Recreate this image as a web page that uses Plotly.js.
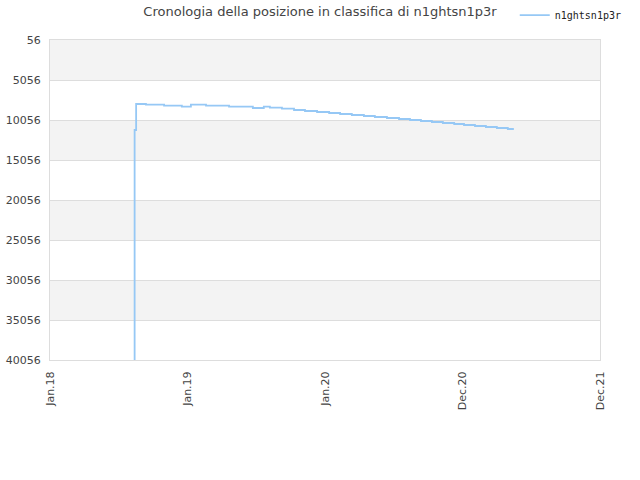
<!DOCTYPE html>
<html>
<head>
<meta charset="utf-8">
<script src="https://cdn.plot.ly/plotly-3.0.1.min.js"></script>
<style>
    html, body { margin: 0; padding: 0; background: #fff; }
    #chart { width: 640px; height: 480px; }
</style>
</head>
<body>
<div id="chart"></div>
<script>
// rank history (step line, monthly-ish updates)
const dates = [
    '2018-08-11', '2018-08-13', '2018-08-17', '2018-09-12', '2018-10-30',
    '2018-12-16', '2019-01-09', '2019-02-18', '2019-04-20', '2019-06-22',
    '2019-07-21', '2019-08-06', '2019-09-07', '2019-10-09', '2019-11-07',
    '2019-12-09', '2020-01-10', '2020-02-08', '2020-03-10', '2020-04-11',
    '2020-05-10', '2020-06-11', '2020-07-13', '2020-08-11', '2020-09-09',
    '2020-10-08', '2020-11-06', '2020-12-06', '2021-01-01', '2021-01-30',
    '2021-02-28', '2021-03-29', '2021-04-27', '2021-05-13'
];
const ranks = [
    42000, 11306, 8056, 8143, 8268,
    8393, 8143, 8268, 8393, 8556,
    8393, 8518, 8643, 8806, 8931,
    9056, 9181, 9306, 9431, 9556,
    9681, 9806, 9931, 10056, 10181,
    10306, 10431, 10556, 10681, 10806,
    10931, 11056, 11181, 11181
];

const xTickVals = ['2018-01-01', '2018-12-31', '2019-12-30', '2020-12-28', '2021-12-27'];
const xTickText = ['Jan.18', 'Jan.19', 'Jan.20', 'Dec.20', 'Dec.21'];
const yTickVals = [56, 5056, 10056, 15056, 20056, 25056, 30056, 35056, 40056];

const trace = {
    type: 'scatter',
    x: dates,
    y: ranks,
    mode: 'lines',
    name: 'n1ghtsn1p3r',
    line: {
        color: 'rgb(150, 200, 245)',
        width: 1.8,
        shape: 'hv',
    },
};

// grey bands on every other row of the grid
const bands = [];
for (let i = 0; i < yTickVals.length - 1; i += 2) {
    bands.push({
        type: 'rect',
        xref: 'paper',
        yref: 'y',
        x0: 0,
        x1: 1,
        y0: yTickVals[i],
        y1: yTickVals[i + 1],
        fillcolor: '#f3f3f3',
        line: { width: 0 },
        layer: 'below',
    });
}

const layout = {
    width: 640,
    height: 480,
    margin: { l: 50, r: 40, t: 40, b: 120, autoexpand: false },
    paper_bgcolor: '#fff',
    plot_bgcolor: '#fff',
    font: { family: 'DejaVu Sans, sans-serif', size: 11, color: '#444' },
    title: {
        text: 'Cronologia della posizione in classifica di n1ghtsn1p3r',
        font: { family: 'DejaVu Sans, sans-serif', size: 13, color: '#444' },
        x: 0.5,
        xanchor: 'center',
        y: 0.977,
        yanchor: 'middle',
    },
    showlegend: true,
    legend: {
        x: 0.845,
        y: 1.078,
        xanchor: 'left',
        yanchor: 'middle',
        itemwidth: 30,
        font: { family: 'DejaVu Sans Mono, monospace', size: 10, color: '#222' },
        bgcolor: 'rgba(0,0,0,0)',
    },
    xaxis: {
        type: 'date',
        range: [xTickVals[0], xTickVals[xTickVals.length - 1]],
        tickmode: 'array',
        tickvals: xTickVals,
        ticktext: xTickText,
        tickangle: -90,
        tickfont: { size: 11, color: '#444' },
        ticklabelstandoff: 6,
        showgrid: false,
        zeroline: false,
        showline: true,
        linecolor: '#ddd',
        linewidth: 1,
        mirror: true,
        ticks: '',
    },
    yaxis: {
        range: [yTickVals[yTickVals.length - 1], yTickVals[0]],
        tickmode: 'array',
        tickvals: yTickVals,
        ticktext: yTickVals.map(String),
        tickfont: { size: 11, color: '#444' },
        ticklabelstandoff: 6,
        showgrid: true,
        gridcolor: '#ddd',
        zeroline: false,
        showline: true,
        linecolor: '#ddd',
        linewidth: 1,
        mirror: true,
        ticks: '',
    },
    shapes: bands,
};

Plotly.newPlot('chart', [trace], layout, { displayModeBar: false, staticPlot: true });
</script>
</body>
</html>
